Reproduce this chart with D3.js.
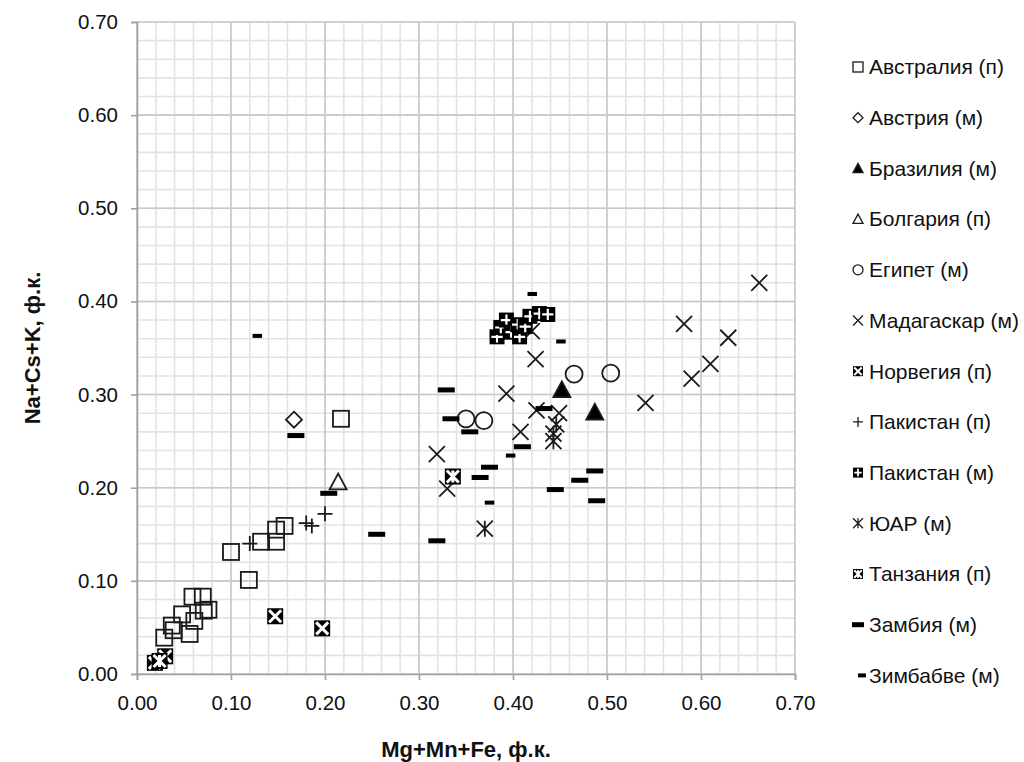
<!DOCTYPE html>
<html>
<head>
<meta charset="utf-8">
<script src="https://cdn.jsdelivr.net/npm/d3@7"></script>
<style>
  html, body { margin: 0; padding: 0; background: #fff; }
  svg { display: block; font-family: "Liberation Sans", Arial, sans-serif; }
</style>
</head>
<body>
<svg id="chart" width="1024" height="762"></svg>
<script>
// Composition of minerals: (Mg+Mn+Fe) vs (Na+Cs+K), formula units
const seriesNames = [
  "Австралия (п)", "Австрия (м)", "Бразилия (м)", "Болгария (п)", "Египет (м)",
  "Мадагаскар (м)", "Норвегия (п)", "Пакистан (п)", "Пакистан (м)", "ЮАР (м)",
  "Танзания (п)", "Замбия (м)", "Зимбабве (м)"
];
const seriesMarkers = [
  "square", "diamond", "triangleFilled", "triangle", "circle",
  "cross", "norway", "plus", "pakistanM", "asterisk",
  "tanzania", "dashLong", "dashShort"
];

const australiaP = [[0.100,0.131],[0.119,0.101],[0.132,0.142],[0.148,0.142],[0.148,0.155],[0.157,0.159],[0.217,0.274],
  [0.059,0.083],[0.070,0.083],[0.076,0.069],[0.071,0.068],[0.048,0.064],[0.061,0.057],[0.037,0.052],[0.039,0.047],[0.056,0.043],[0.029,0.039]];
const austriaM = [[0.167,0.273]];
const brazilM = [[0.452,0.305],[0.487,0.281]];
const bulgariaP = [[0.214,0.206]];
const egyptM = [[0.465,0.322],[0.504,0.323],[0.350,0.274],[0.369,0.272]];
const madagascarM = [[0.662,0.420],[0.582,0.376],[0.629,0.361],[0.610,0.333],[0.590,0.317],[0.541,0.291],[0.424,0.338],
  [0.393,0.301],[0.425,0.283],[0.408,0.260],[0.319,0.236],[0.330,0.199],[0.420,0.368],[0.449,0.280]];
const norwayP = [[0.147,0.062],[0.197,0.049],[0.019,0.012],[0.030,0.019]];
const pakistanP = [[0.120,0.140],[0.180,0.162],[0.186,0.159],[0.200,0.172]];
const pakistanM = [[0.383,0.362],[0.387,0.372],[0.393,0.380],[0.398,0.367],[0.405,0.375],[0.407,0.362],[0.413,0.373],[0.418,0.384],[0.428,0.387],[0.437,0.386]];
const southAfricaM = [[0.370,0.156],[0.446,0.268],[0.443,0.258],[0.443,0.250]];
const tanzaniaP = [[0.336,0.212],[0.024,0.014]];
const zambiaM = [[0.329,0.305],[0.334,0.274],[0.354,0.260],[0.410,0.244],[0.365,0.211],[0.375,0.222],[0.433,0.285],
  [0.471,0.208],[0.487,0.218],[0.445,0.198],[0.489,0.186],[0.169,0.256],[0.204,0.194],[0.255,0.150],[0.319,0.143]];
const zimbabweM = [[0.128,0.363],[0.4205,0.408],[0.451,0.357],[0.3975,0.2345],[0.375,0.184]];

const seriesData = [australiaP, austriaM, brazilM, bulgariaP, egyptM, madagascarM, norwayP,
  pakistanP, pakistanM, southAfricaM, tanzaniaP, zambiaM, zimbabweM];

const axisTicks = [0, 0.1, 0.2, 0.3, 0.4, 0.5, 0.6, 0.7];
const minorTicks = d3.range(0, 36).map(i => i * 0.02).filter(v => v <= 0.7001);
const xTitle = "Mg+Mn+Fe, ф.к.";
const yTitle = "Na+Cs+K, ф.к.";

const svg = d3.select("#chart");
const x = d3.scaleLinear().domain([0, 0.7]).range([137, 795]);
const y = d3.scaleLinear().domain([0, 0.7]).range([674, 22]);

// grid: minor then major
const grid = svg.append("g");
grid.selectAll("line.vmin").data(minorTicks).join("line")
  .attr("x1", d => x(d)).attr("x2", d => x(d)).attr("y1", y(0)).attr("y2", y(0.7))
  .attr("stroke", "#e3e3e3").attr("stroke-width", 1.6);
grid.selectAll("line.hmin").data(minorTicks).join("line")
  .attr("y1", d => y(d)).attr("y2", d => y(d)).attr("x1", x(0)).attr("x2", x(0.7))
  .attr("stroke", "#e3e3e3").attr("stroke-width", 1.6);
grid.selectAll("line.vmaj").data(axisTicks).join("line")
  .attr("x1", d => x(d)).attr("x2", d => x(d)).attr("y1", y(0)).attr("y2", y(0.7))
  .attr("stroke", "#c8c8c8").attr("stroke-width", 1.6);
grid.selectAll("line.hmaj").data(axisTicks).join("line")
  .attr("y1", d => y(d)).attr("y2", d => y(d)).attr("x1", x(0)).attr("x2", x(0.7))
  .attr("stroke", "#c8c8c8").attr("stroke-width", 1.6);

// axes
const fmt = d3.format(".2f");
const xAxis = svg.append("g").attr("transform", `translate(0,${y(0)})`)
  .call(d3.axisBottom(x).tickValues(axisTicks).tickFormat(fmt).tickSize(6).tickPadding(15));
const yAxis = svg.append("g").attr("transform", `translate(${x(0)},0)`)
  .call(d3.axisLeft(y).tickValues(axisTicks).tickFormat(fmt).tickSize(6).tickPadding(13));
[xAxis, yAxis].forEach(a => {
  a.selectAll("path.domain").attr("stroke", "#a0a0a0").attr("stroke-width", 1.6);
  a.selectAll(".tick line").attr("stroke", "#a0a0a0").attr("stroke-width", 1.6);
  a.selectAll(".tick text").attr("fill", "#111").style("font-size", "20.5px")
    .style("font-family", "'Liberation Sans', Arial, sans-serif");
});

// axis titles
svg.append("text").attr("x", x(0.35)).attr("y", 757).attr("text-anchor", "middle")
  .style("font-size", "22px").style("font-weight", "bold").attr("fill", "#111").text(xTitle);
svg.append("text").attr("transform", `translate(40,${y(0.35)}) rotate(-90)`).attr("text-anchor", "middle")
  .style("font-size", "22px").style("font-weight", "bold").attr("fill", "#111").text(yTitle);

// marker drawing
function drawMarker(g, type, s) {
  const h = s / 2;
  const sw = s > 12 ? 1.8 : 1.3;
  switch (type) {
    case "square":
      g.append("rect").attr("x", -h).attr("y", -h).attr("width", s).attr("height", s)
        .attr("fill", "none").attr("stroke", "#1a1a1a").attr("stroke-width", sw);
      break;
    case "diamond":
      g.append("path").attr("d", `M0,${-h}L${h},0L0,${h}L${-h},0Z`)
        .attr("fill", "none").attr("stroke", "#1a1a1a").attr("stroke-width", sw);
      break;
    case "triangleFilled":
    case "triangle": {
      const d = `M0,${-h}L${h},${h * 0.85}L${-h},${h * 0.85}Z`;
      g.append("path").attr("d", d)
        .attr("fill", type === "triangleFilled" ? "#000" : "none")
        .attr("stroke", "#1a1a1a").attr("stroke-width", sw);
      break;
    }
    case "circle":
      g.append("circle").attr("r", h).attr("fill", "none").attr("stroke", "#1a1a1a").attr("stroke-width", sw);
      break;
    case "cross":
      g.append("path").attr("d", `M${-h},${-h}L${h},${h}M${h},${-h}L${-h},${h}`)
        .attr("stroke", "#1a1a1a").attr("stroke-width", sw);
      break;
    case "asterisk":
      g.append("path").attr("d", `M${-h},${-h}L${h},${h}M${h},${-h}L${-h},${h}M0,${-h}L0,${h}`)
        .attr("stroke", "#1a1a1a").attr("stroke-width", sw);
      break;
    case "plus":
      g.append("path").attr("d", `M${-h},0L${h},0M0,${-h}L0,${h}`)
        .attr("stroke", "#1a1a1a").attr("stroke-width", sw);
      break;
    case "norway":
    case "tanzania": {
      g.append("rect").attr("x", -h).attr("y", -h).attr("width", s).attr("height", s).attr("fill", "#000");
      const k = h * 0.75;
      let d = `M${-k},${-k}L${k},${k}M${k},${-k}L${-k},${k}`;
      if (type === "tanzania") d += `M0,${-k}L0,${k}`;
      g.append("path").attr("d", d).attr("stroke", "#fff").attr("stroke-width", s > 12 ? 3 : 2);
      break;
    }
    case "pakistanM": {
      g.append("rect").attr("x", -h).attr("y", -h).attr("width", s).attr("height", s).attr("fill", "#000");
      const k = h * 0.75;
      g.append("path").attr("d", `M${-k},0L${k},0M0,${-k}L0,${k}`)
        .attr("stroke", "#fff").attr("stroke-width", s > 12 ? 2.2 : 1.8);
      break;
    }
    case "dashLong":
      g.append("rect").attr("x", -h).attr("y", -2.5).attr("width", s).attr("height", 5).attr("fill", "#000");
      break;
    case "dashShort":
      g.append("rect").attr("x", -s * 0.28).attr("y", -2).attr("width", s * 0.56).attr("height", 4).attr("fill", "#000");
      break;
  }
}

const markerSize = { square: 16, diamond: 16, triangleFilled: 17, triangle: 17, circle: 17, cross: 16,
  norway: 16, plus: 15, pakistanM: 15, asterisk: 16, tanzania: 16, dashLong: 17, dashShort: 17 };

const plot = svg.append("g");
seriesData.forEach((pts, i) => {
  const type = seriesMarkers[i];
  plot.selectAll(null).data(pts).join("g")
    .attr("transform", d => `translate(${x(d[0])},${y(d[1])})`)
    .each(function () { drawMarker(d3.select(this), type, markerSize[type]); });
});

// legend
const legend = svg.append("g");
const legendX = 858, legendY0 = 67, legendStep = 50.7;
seriesNames.forEach((name, i) => {
  const row = legend.append("g").attr("transform", `translate(${legendX},${legendY0 + i * legendStep})`);
  const t = seriesMarkers[i];
  const mg = row.append("g");
  if (t === "dashShort") mg.attr("transform", "translate(4,0)");
  drawMarker(mg, t, t === "dashLong" ? 12 : (t === "dashShort" ? 14 : 10));
  row.append("text").attr("x", 11).attr("y", 0).attr("dy", "0.35em")
    .style("font-size", "21px").attr("fill", "#111").text(name);
});
</script>
</body>
</html>
